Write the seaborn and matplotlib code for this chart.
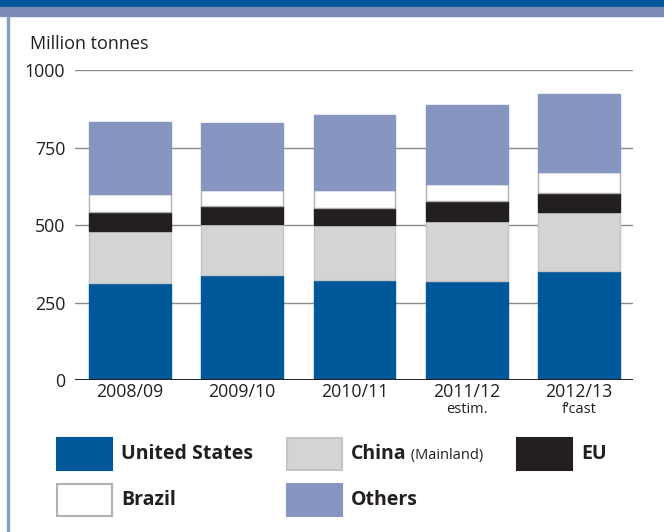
import numpy as np
import pandas as pd
import seaborn as sns
import matplotlib.pyplot as plt
from matplotlib.patches import Rectangle
from matplotlib.transforms import blended_transform_factory

seasons = ["2008/09", "2009/10", "2010/11", "2011/12", "2012/13"]
season_notes = ["", "", "", "estim.", "f\u2019cast"]
us = [313, 339, 323, 320, 352]
china = [168, 164, 177, 192, 189]
eu = [61, 58, 55, 66, 63]
brazil = [58, 52, 58, 54, 66]
others = [232, 216, 242, 254, 252]

series = {
    "United States": (us, "#00579a", "#00579a"),
    "China": (china, "#d3d5d4", "#c4c6c5"),
    "EU": (eu, "#231f20", "#231f20"),
    "Brazil": (brazil, "#ffffff", "#b0b0b0"),
    "Others": (others, "#8795c1", "#8795c1"),
}

sns.set_style("white")
plt.rcParams["font.family"] = ["Open Sans", "DejaVu Sans"]

W, H = 664, 532
fig = plt.figure(figsize=(W / 100, H / 100), dpi=100)
ax = fig.add_axes([0.113, 0.2857, 0.840, 0.5827])

df = pd.DataFrame({"season": seasons})
bottom = np.zeros(len(seasons))
for name, (vals, color, edge) in series.items():
    sns.barplot(x=df["season"], y=vals, color=color, edgecolor=edge,
                linewidth=1.0, width=0.73, bottom=bottom, ax=ax,
                saturation=1, zorder=3)
    bottom = bottom + np.array(vals)

ax.set_xlim(-0.49, 4.48)
ax.set_ylim(0, 1000)
ax.set_yticks([0, 250, 500, 750, 1000])
for y in [250, 500, 750, 1000]:
    ax.axhline(y, color="#8a8a8a", lw=1.0, zorder=1)
ax.axhline(0, color="#231f20", lw=1.4, zorder=4)
sns.despine(ax=ax, left=True, bottom=True, top=True, right=True)
ax.tick_params(axis="y", length=0, pad=7, labelsize=12.8, colors="#231f20")
ax.tick_params(axis="x", length=0, pad=2, labelsize=12.8, colors="#231f20")
ax.set_xlabel("")
ax.set_ylabel("")

trans = blended_transform_factory(ax.transData, ax.transAxes)
for i, note in enumerate(season_notes):
    if note:
        ax.text(i, -0.095, note, transform=trans, ha="center", va="center",
                fontsize=10.5, color="#231f20")

fig.text(30 / W, 1 - 44 / H, "Million tonnes", fontsize=13,
         color="#231f20", va="center", ha="left")

# header bands and left border
fig.patches.append(Rectangle((0, 1 - 7 / H), 1, 7 / H, transform=fig.transFigure,
                             color="#00579a", zorder=0))
fig.patches.append(Rectangle((0, 1 - 16 / H), 1, 9 / H, transform=fig.transFigure,
                             color="#7a89b6", zorder=0))
fig.patches.append(Rectangle((7 / W, 0), 2 / W, 1 - 16 / H, transform=fig.transFigure,
                             color="#7e9fbf", zorder=0))

# legend
legend_items = [
    ("United States", "", 57, 438),
    ("China", " (Mainland)", 287, 438),
    ("EU", "", 517, 438),
    ("Brazil", "", 57, 484),
    ("Others", "", 287, 484),
]
for name, extra, x0, y0 in legend_items:
    _, color, edge = series[name]
    fig.patches.append(Rectangle((x0 / W, 1 - (y0 + 32) / H), 55 / W, 32 / H,
                                 transform=fig.transFigure, facecolor=color,
                                 edgecolor=edge, lw=1.5, zorder=2))
    t = fig.text((x0 + 64) / W, 1 - (y0 + 16) / H, name, fontsize=14,
                 fontweight="bold", color="#231f20", va="center", ha="left")
    if extra:
        fig.canvas.draw()
        bb = t.get_window_extent()
        fig.text(bb.x1 / W, 1 - (y0 + 17) / H, extra, fontsize=10.5,
                 color="#231f20", va="center", ha="left")

fig.savefig("out.png", dpi=100)
